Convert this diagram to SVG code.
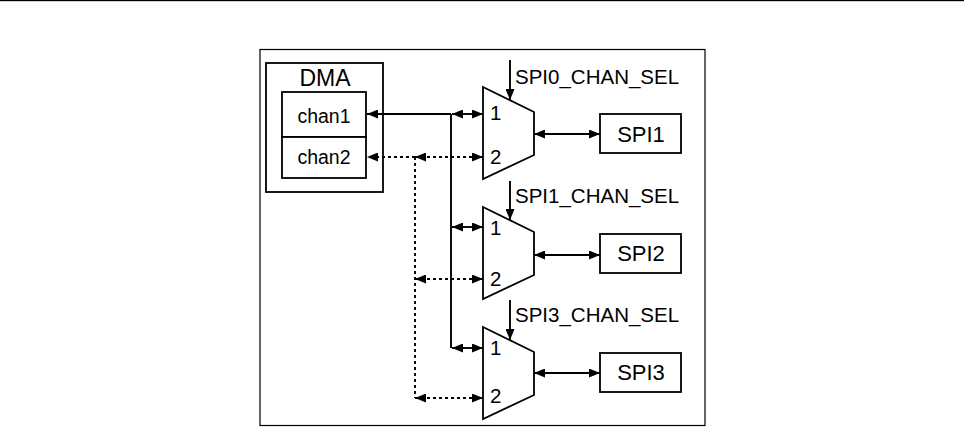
<svg xmlns="http://www.w3.org/2000/svg" width="964" height="427" viewBox="0 0 964 427">
<style>
.box{fill:#fff;stroke:#000;stroke-width:1.8}
.frame{fill:none;stroke:#000;stroke-width:1.2}
.mux{fill:#fff;stroke:#000;stroke-width:1.8;stroke-linejoin:miter}
.t{font-family:"Liberation Sans",Arial,sans-serif;fill:#000}
.c{fill:none;stroke:#000;stroke-width:1.9}
.d{fill:none;stroke:#000;stroke-width:1.9;stroke-dasharray:3 3}
</style>
<defs>
<marker id="ah" viewBox="0 0 11 9" refX="11" refY="4.5" markerWidth="11" markerHeight="9" markerUnits="userSpaceOnUse" orient="auto-start-reverse">
<path d="M0,0 L11,4.5 L0,9 z" fill="#000"/>
</marker>
</defs>
<rect width="964" height="427" fill="#fff"/>
<rect x="0" y="0" width="964" height="1.2" fill="#000"/>
<rect class="frame" x="260" y="49.5" width="445" height="376"/>

<g id="dma">
<rect class="box" x="266" y="63" width="117" height="129"/>
<text class="t" x="325" y="86" font-size="23" text-anchor="middle">DMA</text>
</g>
<g id="chan1">
<rect class="box" x="282" y="92" width="84" height="45"/>
<text class="t" x="324" y="123" font-size="19.5" text-anchor="middle">chan1</text>
</g>
<g id="chan2">
<rect class="box" x="282" y="137" width="84" height="41"/>
<text class="t" x="324" y="164" font-size="19.5" text-anchor="middle">chan2</text>
</g>

<g id="mux1">
<polygon class="mux" points="483,87 534,112 534,155 483,179"/>
<text class="t" x="490" y="119.5" font-size="20.5">1</text>
<text class="t" x="490" y="164" font-size="20.5">2</text>
</g>
<g id="mux2">
<polygon class="mux" points="483,207 534,232 534,275 483,299"/>
<text class="t" x="490" y="235" font-size="20.5">1</text>
<text class="t" x="490" y="286" font-size="20.5">2</text>
</g>
<g id="mux3">
<polygon class="mux" points="483,327 534,352 534,395 483,419"/>
<text class="t" x="490" y="355" font-size="20.5">1</text>
<text class="t" x="490" y="403" font-size="20.5">2</text>
</g>

<g id="spi1">
<rect class="box" x="600" y="114" width="81" height="39"/>
<text class="t" x="641" y="141.5" font-size="22" text-anchor="middle">SPI1</text>
</g>
<g id="spi2">
<rect class="box" x="600" y="234" width="81" height="39"/>
<text class="t" x="641" y="261" font-size="22" text-anchor="middle">SPI2</text>
</g>
<g id="spi3">
<rect class="box" x="600" y="353" width="81" height="39"/>
<text class="t" x="641" y="380" font-size="22" text-anchor="middle">SPI3</text>
</g>

<g id="sel-labels">
<text class="t" x="515" y="84" font-size="20.5">SPI0_CHAN_SEL</text>
<text class="t" x="515" y="202.5" font-size="20.5">SPI1_CHAN_SEL</text>
<text class="t" x="515" y="321.5" font-size="20.5">SPI3_CHAN_SEL</text>
</g>

<g id="connectors">
<line class="c" x1="510" y1="60" x2="510" y2="100" marker-end="url(#ah)"/>
<line class="c" x1="510" y1="181" x2="510" y2="220" marker-end="url(#ah)"/>
<line class="c" x1="510" y1="300" x2="510" y2="340" marker-end="url(#ah)"/>

<line class="c" x1="451" y1="114" x2="367" y2="114" marker-end="url(#ah)"/>
<line class="c" x1="451" y1="114" x2="451" y2="348"/>
<line class="c" x1="452" y1="114" x2="483" y2="114" marker-start="url(#ah)" marker-end="url(#ah)"/>
<line class="c" x1="452" y1="227" x2="483" y2="227" marker-start="url(#ah)" marker-end="url(#ah)"/>
<line class="c" x1="452" y1="348" x2="483" y2="348" marker-start="url(#ah)" marker-end="url(#ah)"/>

<line class="d" x1="415" y1="157" x2="367" y2="157" marker-end="url(#ah)"/>
<line class="d" x1="415" y1="157" x2="415" y2="398"/>
<line class="d" x1="415" y1="157" x2="483" y2="157" marker-start="url(#ah)" marker-end="url(#ah)"/>
<line class="d" x1="415" y1="279" x2="483" y2="279" marker-start="url(#ah)" marker-end="url(#ah)"/>
<line class="d" x1="415" y1="398" x2="483" y2="398" marker-start="url(#ah)" marker-end="url(#ah)"/>

<line class="c" x1="534" y1="134" x2="600" y2="134" marker-start="url(#ah)" marker-end="url(#ah)"/>
<line class="c" x1="534" y1="255" x2="600" y2="255" marker-start="url(#ah)" marker-end="url(#ah)"/>
<line class="c" x1="534" y1="373" x2="600" y2="373" marker-start="url(#ah)" marker-end="url(#ah)"/>
</g>
</svg>
